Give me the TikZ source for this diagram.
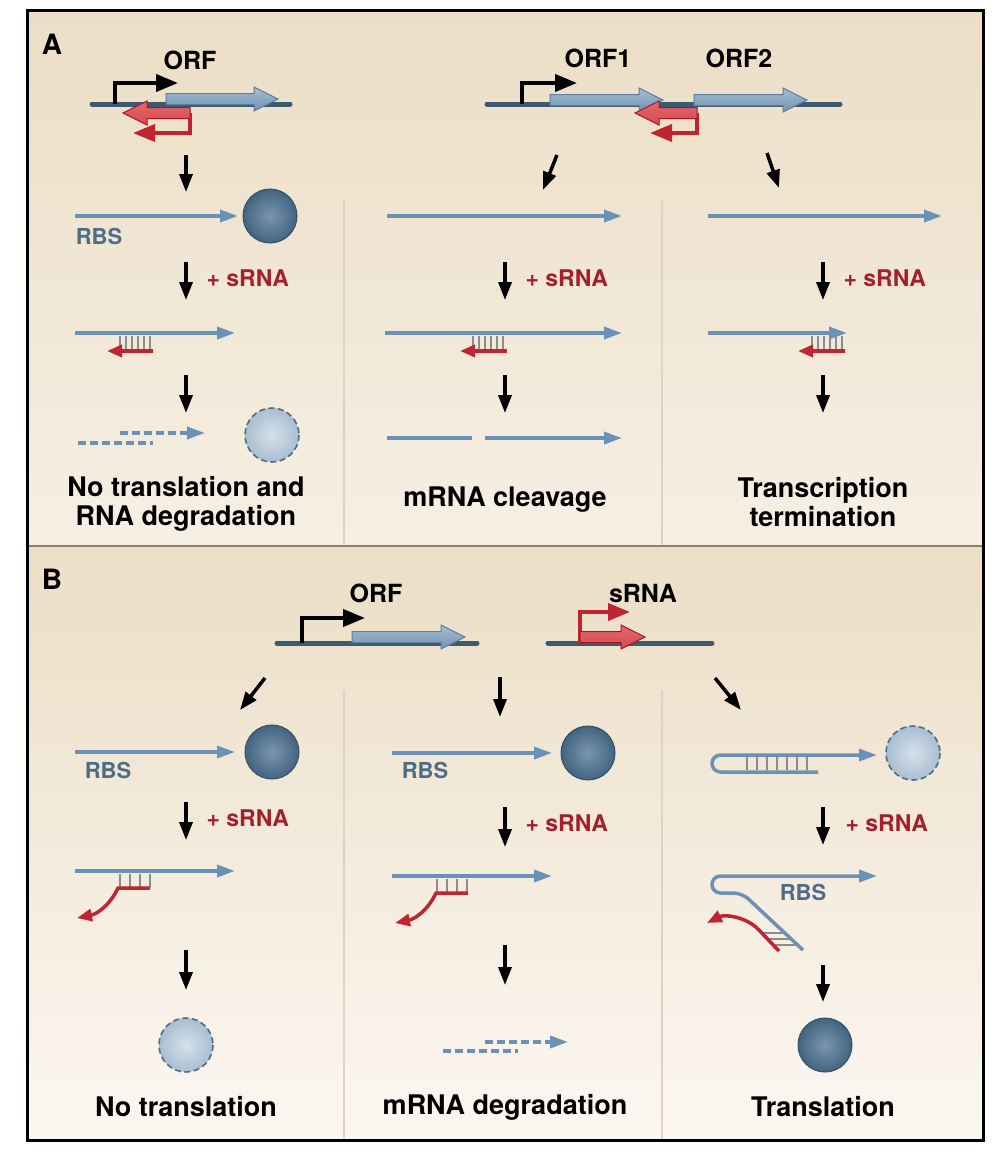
\documentclass[tikz,border=0pt]{standalone}
\usepackage{fontspec}
\setmainfont{TeX Gyre Heros}
\usetikzlibrary{arrows.meta}

\definecolor{dnacol}{HTML}{3E5A70}
\definecolor{rnacol}{HTML}{6A92B6}
\definecolor{orfcol}{HTML}{7FA2C2}
\definecolor{orfedge}{HTML}{5A7E9E}
\definecolor{srnacol}{HTML}{BE2530}
\definecolor{sfill}{HTML}{D9464C}
\definecolor{sedge}{HTML}{A8181F}
\definecolor{srnatext}{HTML}{A3202A}
\definecolor{rbstext}{HTML}{4D6C85}
\definecolor{pairgray}{HTML}{8C8C8C}
\definecolor{ribolight}{HTML}{7896AE}
\definecolor{ribodark}{HTML}{436480}
\definecolor{ghostlight}{HTML}{D6E1EA}
\definecolor{ghostdark}{HTML}{A9BED0}
\definecolor{bgtop}{HTML}{ECDEC6}
\definecolor{bgbot}{HTML}{F6EFE4}
\definecolor{bgbotB}{HTML}{FBF7F1}
\definecolor{sepcol}{HTML}{8E7E6C}
\definecolor{colsep}{HTML}{DDD3C5}

% block arrow: style, start x, tip x, centre y
\newcommand{\blockarrow}[4]{%
  \shadedraw[#1] (#2,#4-5.5) -- ({#3-24*(#3-#2)/abs(#3-#2)},#4-5.5)
    -- ({#3-24*(#3-#2)/abs(#3-#2)},#4-12) -- (#3,#4)
    -- ({#3-24*(#3-#2)/abs(#3-#2)},#4+12) -- ({#3-24*(#3-#2)/abs(#3-#2)},#4+5.5)
    -- (#2,#4+5.5) -- cycle;}

\begin{document}
\begin{tikzpicture}[x=1pt, y=-1pt,
  dna/.style={line width=5pt, dnacol, line cap=round},
  prom/.style={line width=4pt, -{Triangle[length=22pt,width=17pt]}},
  sprom/.style={prom, srnacol},
  flow/.style={line width=3.5pt, -{Triangle[length=18pt,width=13pt]}},
  rna/.style={line width=3.5pt, rnacol, -{Triangle[length=18pt,width=12pt]}},
  rnaline/.style={line width=3.5pt, rnacol},
  deg/.style={rnaline, dash pattern=on 8pt off 4pt},
  degarrow/.style={rna, dash pattern=on 8pt off 4pt},
  srna/.style={line width=3.5pt, srnacol, -{Triangle[length=15pt,width=12pt]}},
  srnaline/.style={line width=3.5pt, srnacol},
  pair/.style={line width=1.3pt, pairgray},
  orf/.style={top color=orfcol!70!white, bottom color=orfcol!90!black, draw=orfedge, line width=1pt},
  sorf/.style={top color=sfill!80!white, bottom color=sfill, draw=sedge, line width=1pt},
  ribo/.style={inner color=ribolight, outer color=ribodark, draw=ribodark!80!black, line width=1pt},
  ghost/.style={inner color=ghostlight, outer color=ghostdark, draw=rbstext, line width=1.6pt, dash pattern=on 6pt off 3.5pt},
  gene/.style={font=\bfseries\fontsize{25}{28}\selectfont},
  plus/.style={font=\bfseries\fontsize{23}{26}\selectfont, srnatext, anchor=west},
  rbs/.style={font=\bfseries\fontsize{22}{24}\selectfont, rbstext},
  result/.style={font=\bfseries\fontsize{27}{29}\selectfont, align=center},
  panel/.style={font=\bfseries\fontsize{28}{30}\selectfont}]

\useasboundingbox (0,0) rectangle (1006,1160);

% Backgrounds
\shade[top color=bgtop, bottom color=bgbot] (27,10) rectangle (983,546);
\shade[top color=bgtop, bottom color=bgbotB] (27,546) rectangle (983,1140);
\draw[colsep, line width=2pt] (344,200) -- (344,546) (662,200) -- (662,546);
\draw[colsep, line width=2pt] (344,690) -- (344,1140) (662,690) -- (662,1140);
\draw[sepcol, line width=2pt] (27,546) -- (983,546);
\draw[line width=3pt] (27,10) rectangle (983,1140);

\node[panel] (pA) at (52,44) {A};
\node[panel] (pB) at (52,579) {B};

% ---------- Panel A ----------
% Genes
\node[gene] (orfA) at (190,60) {ORF};
\draw[dna] (92,104) -- (290,104);
\blockarrow{orf}{166}{278}{99}
\draw[prom] (115,104) -- (115,83) -- (178,83);
\draw[sprom] (190,113) -- (190,133) -- (133,133);
\blockarrow{sorf}{190}{123}{113}

\node[gene] (orfone) at (598,58) {ORF1};
\node[gene] (orftwo) at (739,58) {ORF2};
\draw[dna] (487,104) -- (840,104);
\blockarrow{orf}{550}{663}{100}
\blockarrow{orf}{694}{807}{100}
\draw[prom] (522,104) -- (522,83) -- (577,83);
\draw[sprom] (697,113) -- (697,133) -- (650,133);
\blockarrow{sorf}{697}{635}{113}

\draw[flow] (186,155) -- (186,192);
\draw[flow] (557,155) -- (543,190);
\draw[flow] (767,153) -- (779,188);

% Left column
\draw[rna] (75,216) -- (238,216);
\node[rbs] (rbsA) at (99,236) {RBS};
\shadedraw[ribo] (270,216) circle (27);
\draw[flow] (186,262) -- (186,300);
\node[plus] (plusA) at (203,278) {+ sRNA};
\draw[rna] (75,333) -- (235,333);
\foreach \x in {120,126,...,150} \draw[pair] (\x,336) -- (\x,350);
\draw[srna] (153,351) -- (107,351);
\draw[flow] (186,375) -- (186,413);
\draw[degarrow] (120,433) -- (205,433);
\draw[deg] (78,443) -- (153,443);
\shadedraw[ghost] (272,435) circle (27);
\node[result] (resA) at (186,504) {No translation and\\RNA degradation};

% Middle column
\draw[rna] (387,216) -- (622,216);
\draw[flow] (505,262) -- (505,300);
\node[plus] (plusB) at (522,278) {+ sRNA};
\draw[rna] (385,333) -- (622,333);
\foreach \x in {473,479,...,503} \draw[pair] (\x,336) -- (\x,350);
\draw[srna] (507,351) -- (460,351);
\draw[flow] (505,375) -- (505,413);
\draw[rnaline] (387,438) -- (472,438);
\draw[rna] (485,438) -- (622,438);
\node[result] (resB) at (505,500) {mRNA cleavage};

% Right column
\draw[rna] (708,216) -- (942,216);
\draw[flow] (823,262) -- (823,300);
\node[plus] (plusC) at (840,278) {+ sRNA};
\draw[rna] (708,333) -- (847,333);
\foreach \x in {812,818,...,842} \draw[pair] (\x,336) -- (\x,350);
\draw[srna] (845,351) -- (798,351);
\draw[flow] (823,375) -- (823,413);
\node[result] (resC) at (823,502) {Transcription\\termination};

% ---------- Panel B ----------
\node[gene] (orfB) at (376,593) {ORF};
\draw[dna] (277,643) -- (477,643);
\blockarrow{orf}{352}{465}{637}
\draw[prom] (302,643) -- (302,618) -- (365,618);

\node[gene] (srnaB) at (643,593) {sRNA};
\draw[dna] (548,643) -- (712,643);
\draw[sprom] (580,643) -- (580,612) -- (630,612);
\blockarrow{sorf}{580}{645}{637}

\draw[flow] (265,678) -- (240,710);
\draw[flow] (500,677) -- (500,717);
\draw[flow] (715,678) -- (741,710);

% Left column
\draw[rna] (75,752) -- (235,752);
\node[rbs] (rbsB) at (108,770) {RBS};
\shadedraw[ribo] (272,752) circle (27);
\draw[flow] (186,802) -- (186,840);
\node[plus] (plusD) at (203,818) {+ sRNA};
\draw[rna] (75,871) -- (235,871);
\foreach \x in {120,130,140,150} \draw[pair] (\x,874) -- (\x,887);
\draw[srna] (150,888) -- (118,888) .. controls (110,905) and (97,914) .. (77,918);
\draw[flow] (186,950) -- (186,990);
\shadedraw[ghost] (186,1045) circle (27);
\node[result] (resD) at (186,1107) {No translation};

% Middle column
\draw[rna] (392,753) -- (552,753);
\node[rbs] (rbsC) at (425,770) {RBS};
\shadedraw[ribo] (588,753) circle (27);
\draw[flow] (505,807) -- (505,847);
\node[plus] (plusE) at (522,823) {+ sRNA};
\draw[rna] (392,876) -- (552,876);
\foreach \x in {437,447,457,467} \draw[pair] (\x,879) -- (\x,892);
\draw[srna] (468,893) -- (436,893) .. controls (428,910) and (415,919) .. (395,923);
\draw[flow] (505,945) -- (505,985);
\draw[degarrow] (485,1042) -- (568,1042);
\draw[deg] (443,1051) -- (518,1051);
\node[result] (resE) at (505,1107) {mRNA degradation};

% Right column
\draw[rna, rounded corners=8.5pt] (818,772) -- (712,772) -- (712,755) -- (877,755);
\foreach \x in {747,757,...,807} \draw[pair] (\x,757) -- (\x,770);
\shadedraw[ghost] (913,753) circle (27);
\draw[flow] (823,807) -- (823,845);
\node[plus] (plusF) at (842,823) {+ sRNA};
\draw[rna, rounded corners=8.5pt] (803,950) -- (742,893) -- (712,893) -- (712,876) -- (877,876);
\node[rbs] (rbsD) at (803,892) {RBS};
\foreach \y in {933,939,945}
  \draw[pair] ({757+(\y-928)*22/23},\y) -- ({742+(\y-893)*61/57},\y);
\draw[srnaline] (757,928) -- (779,951);
\draw[srna] (757,928) .. controls (745,917) and (725,914) .. (707,923);
\draw[flow] (823,965) -- (823,1002);
\shadedraw[ribo] (825,1045) circle (27);
\node[result] (resF) at (823,1107) {Translation};
\end{tikzpicture}
\end{document}
